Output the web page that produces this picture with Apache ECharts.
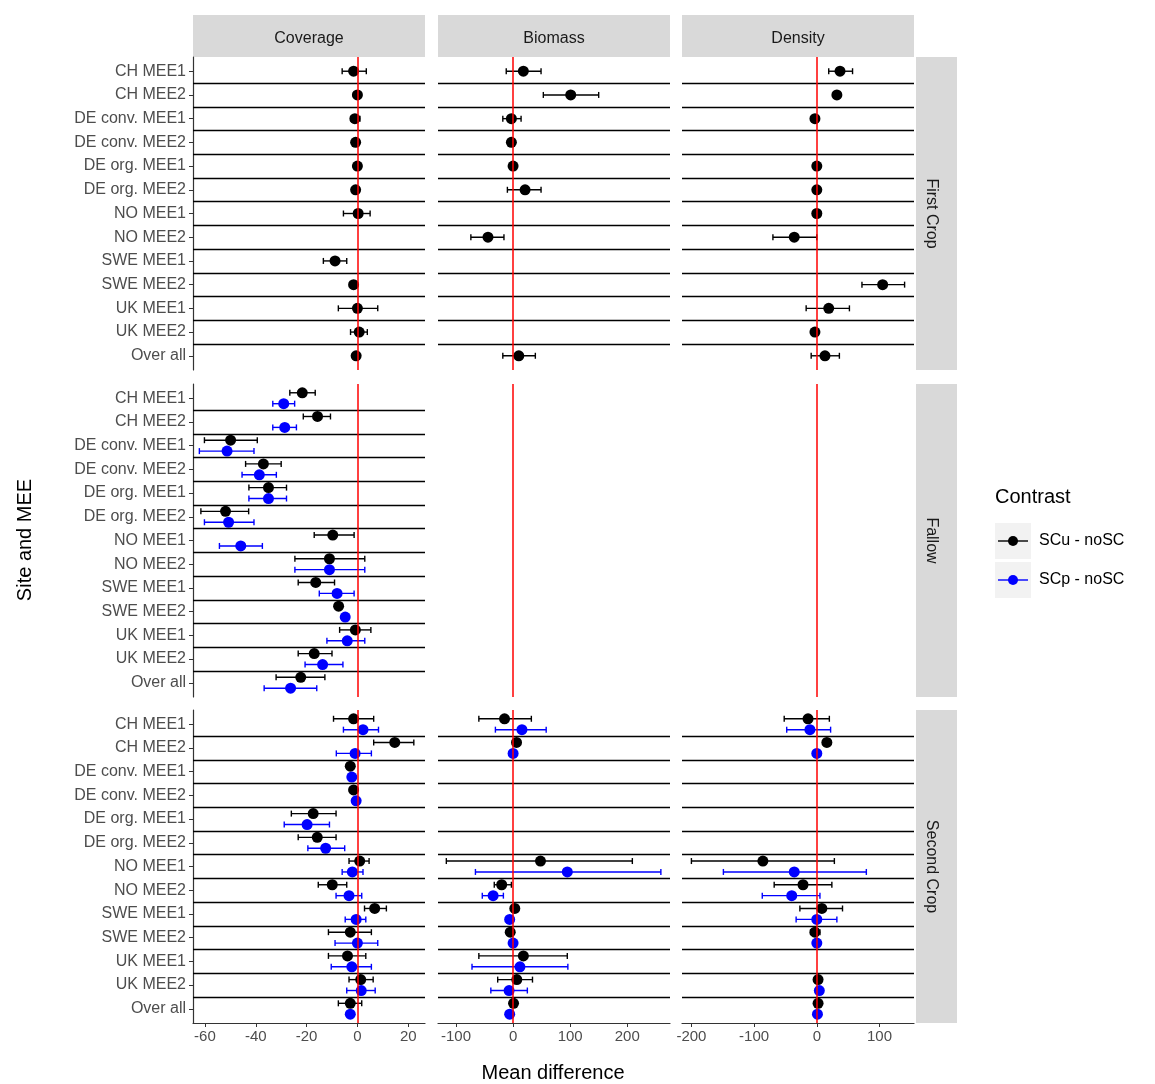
<!DOCTYPE html>
<html style="height: 100%">
<head>
<meta charset="utf-8">
<script src="https://cdn.jsdelivr.net/npm/echarts@6/dist/echarts.min.js"></script>
</head>
<body style="width: 100%; height: 100%; margin:0; background:#fff;">
<div id="container" style="width:1155px; height:1084px"></div>
<script type="text/javascript">
	var sites = ['CH MEE1', 'CH MEE2', 'DE conv. MEE1', 'DE conv. MEE2', 'DE org. MEE1', 'DE org. MEE2', 'NO MEE1', 'NO MEE2', 'SWE MEE1', 'SWE MEE2', 'UK MEE1', 'UK MEE2', 'Over all'];
	var measures = ['Coverage', 'Biomass', 'Density'];
	var periods = ['First Crop', 'Fallow', 'Second Crop'];
	var contrasts = ['SCu - noSC', 'SCp - noSC'];

	// [estimate, lower, upper], null = no estimate
	var covFirstU = [[-1.5, -6, 3.5], [0, -1.5, 1.5], [-1, -2.5, 1], [-0.7, -1.2, -0.2], [0, -0.6, 0.6], [-0.7, -1.3, -0.1], [0.3, -5.5, 5], null, [-8.8, -13.4, -4.2], [-1.5, -2, -1], [0, -7.5, 8], [0.7, -2.7, 3.9], [-0.5, -1, 0]];
	var bioFirstU = [[18, -12, 49], [101, 53, 150], [-3, -18, 14], [-3, -4, -2], [0, -1, 1], [21, -10, 49], null, [-44, -74, -16], null, null, null, null, [10, -18, 39]];
	var denFirstU = [[37, 19, 57], [32, 31, 33], [-3, -4, -2], null, [0, -1, 1], [0, -1, 1], [0, -1, 1], [-36, -70, 0], null, [105, 72, 140], [19, -17, 52], [-3, -4, -2], [13, -9, 36]];

	var covFallowU = [[-21.7, -26.6, -16.6], [-15.7, -21.3, -10.6], [-49.9, -60.2, -39.4], [-37, -44, -30], [-35, -42.7, -27.9], [-51.9, -61.6, -42.8], [-9.7, -17, -1.3], [-11, -24.6, 2.9], [-16.4, -23.3, -9], [-7.4, -8.2, -6.6], [-0.8, -7, 5.3], [-17, -23.3, -10], [-22.3, -32, -12.8]];
	var covFallowP = [[-29, -33.3, -24.7], [-28.6, -33.3, -24], [-51.3, -62.2, -40.7], [-38.6, -45.4, -31.9], [-35, -42.7, -27.9], [-50.7, -60.2, -40.7], [-45.9, -54.3, -37.4], [-11, -24.6, 2.9], [-8, -15, -1.3], [-4.8, -5.8, -3.8], [-4, -12, 2.9], [-13.7, -20.6, -5.7], [-26.3, -36.7, -16]];

	var covSecondU = [[-1.5, -9.4, 6.4], [14.7, 6.4, 22.2], [-2.8, -3.6, -2], [-1.5, -2.2, -0.8], [-17.4, -26, -8.4], [-15.8, -23.3, -8.4], [0.9, -3.3, 4.6], [-9.9, -15.4, -4.2], [6.8, 2.8, 11.4], [-2.8, -11.4, 5.5], [-3.9, -11.4, 3.3], [1.3, -3.3, 6.2], [-2.8, -7.5, 1.7]];
	var covSecondP = [[2.2, -5.5, 8.3], [-0.9, -8.3, 5.5], [-2.2, -2.8, -1.6], [-0.5, -1, 0], [-19.8, -28.8, -11], [-12.5, -19.5, -5], [-2, -6, 2.2], [-3.3, -8.4, 1.7], [-0.5, -4.8, 3.3], [0, -8.8, 8], [-2.2, -10.3, 5.5], [1.5, -4.2, 7], [-2.8, -3.4, -2.2]];
	var bioSecondU = [[-15, -60, 32], [6, 4, 8], null, null, null, null, [48, -117, 209], [-20, -33, -3], [3, 1, 5], [-5, -7, -3], [18, -60, 95], [6.5, -27, 34], [0.8, -1, 2.5]];
	var bioSecondP = [[15.5, -31, 58], [0, -2, 2], null, null, null, null, [95, -66, 259], [-35, -54, -17], [-6, -8, -4], [0, -2, 2], [12, -72, 96], [-7, -39, 25], [-6, -8, -4]];
	var denSecondU = [[-14, -52, 20], [16, 14, 18], null, null, null, null, [-86, -200, 28], [-22, -68, 24], [8, -27, 41], [-3, -10, 5], null, [2, 0, 4], [2, 0, 4]];
	var denSecondP = [[-11, -48, 22], [0, -2, 2], null, null, null, null, [-36, -149, 79], [-40, -87, 5], [0, -33, 32], [0, -5, 5], null, [4, 2, 6], [1, -1, 3]];

	var xRanges = [[-64.7, 26.6], [-131.6, 275], [-215, 155]];
	var xTicks = [[-60, -40, -20, 0, 20], [-100, 0, 100, 200], [-200, -100, 0, 100]];

	var panels = [
		{ row: 0, col: 0, u: covFirstU, p: null },
		{ row: 0, col: 1, u: bioFirstU, p: null },
		{ row: 0, col: 2, u: denFirstU, p: null },
		{ row: 1, col: 0, u: covFallowU, p: covFallowP },
		{ row: 1, col: 1, u: null, p: null },
		{ row: 1, col: 2, u: null, p: null },
		{ row: 2, col: 0, u: covSecondU, p: covSecondP },
		{ row: 2, col: 1, u: bioSecondU, p: bioSecondP },
		{ row: 2, col: 2, u: denSecondU, p: denSecondP }
	];

	var colLeft = [193, 438, 682], colW = 232;
	var rowTop = [57, 384, 710], rowH = 313;
	var grids = [], xAxes = [], yAxes = [], series = [];
	var idx = [];
	for (var i = 0; i < sites.length; i++) idx.push(i);
	var hlines = [];
	for (var i = 0; i < 12; i++) hlines.push({ yAxis: i + 0.5 });

	function errorBar(color) {
		return function (params, api) {
			var y = api.value(0), lo = api.value(1), hi = api.value(2);
			var a = api.coord([lo, y]), b = api.coord([hi, y]);
			var st = { stroke: color, lineWidth: 1.4 };
			var c = 3;
			return {
				type: 'group',
				children: [
					{ type: 'line', shape: { x1: a[0], y1: a[1], x2: b[0], y2: b[1] }, style: st },
					{ type: 'line', shape: { x1: a[0], y1: a[1] - c, x2: a[0], y2: a[1] + c }, style: st },
					{ type: 'line', shape: { x1: b[0], y1: b[1] - c, x2: b[0], y2: b[1] + c }, style: st }
				]
			};
		};
	}

	function addSeries(g, arr, off, color, name) {
		var pts = [], bars = [];
		for (var i = 0; i < arr.length; i++) {
			if (!arr[i]) continue;
			pts.push([arr[i][0], i + off]);
			bars.push([i + off, arr[i][1], arr[i][2]]);
		}
		series.push({
			type: 'custom', name: name, xAxisIndex: g, yAxisIndex: g,
			renderItem: errorBar(color), encode: { x: [1, 2], y: 0 }, data: bars, z: 3
		});
		series.push({
			type: 'scatter', name: name, xAxisIndex: g, yAxisIndex: g,
			symbolSize: 11, itemStyle: { color: color, opacity: 1 }, data: pts, z: 4
		});
	}

	panels.forEach(function (pn, g) {
		grids.push({ left: colLeft[pn.col], top: rowTop[pn.row], width: colW, height: rowH });
		xAxes.push({
			type: 'value', gridIndex: g, min: xRanges[pn.col][0], max: xRanges[pn.col][1],
			axisLine: { show: pn.row == 2, onZero: false, lineStyle: { color: '#333', width: 1.2 } },
			axisTick: { show: pn.row == 2, customValues: xTicks[pn.col], length: 4, lineStyle: { color: '#333' } },
			axisLabel: { show: pn.row == 2, customValues: xTicks[pn.col], color: '#4d4d4d', fontSize: 15, fontFamily: 'Liberation Sans', margin: 6 },
			splitLine: { show: false }
		});
		yAxes.push({
			type: 'value', gridIndex: g, min: -0.6, max: 12.6, inverse: true,
			axisLine: { show: pn.col == 0, onZero: false, lineStyle: { color: '#333', width: 1.2 } },
			axisTick: { show: pn.col == 0, customValues: idx, length: 4, lineStyle: { color: '#333' } },
			axisLabel: {
				show: pn.col == 0, customValues: idx, color: '#4d4d4d', fontSize: 16, fontFamily: 'Liberation Sans', margin: 7,
				formatter: function (v) { return sites[Math.round(v)]; }
			},
			splitLine: { show: false }
		});
		var marks = [{ xAxis: 0, lineStyle: { color: '#ff0000', width: 1.5, type: 'solid' } }];
		if (pn.u) marks = hlines.map(function (h) { return { yAxis: h.yAxis, lineStyle: { color: '#000', width: 1.4, type: 'solid' } }; }).concat(marks);
		series.push({
			type: 'line', xAxisIndex: g, yAxisIndex: g, data: [], silent: true,
			markLine: { symbol: 'none', silent: true, label: { show: false }, animation: false, data: marks }, z: 2
		});
		if (pn.u) addSeries(g, pn.u, pn.p ? -0.23 : 0, '#000000', contrasts[0]);
		if (pn.p) addSeries(g, pn.p, 0.23, '#0000ff', contrasts[1]);
	});

	var graphics = [];
	measures.forEach(function (m, c) {
		graphics.push({ type: 'rect', shape: { x: colLeft[c], y: 15, width: colW, height: 42 }, style: { fill: '#d9d9d9' } });
		graphics.push({ type: 'text', x: colLeft[c] + colW / 2, y: 39, style: { text: m, fill: '#1a1a1a', font: '16px "Liberation Sans"', align: 'center', verticalAlign: 'middle' } });
	});
	periods.forEach(function (p, r) {
		graphics.push({ type: 'rect', shape: { x: 916, y: rowTop[r], width: 41, height: rowH }, style: { fill: '#d9d9d9' } });
		graphics.push({ type: 'text', x: 931, y: rowTop[r] + rowH / 2, rotation: -Math.PI / 2, style: { text: p, fill: '#1a1a1a', font: '16px "Liberation Sans"', align: 'center', verticalAlign: 'middle' } });
	});
	graphics.push({ type: 'text', x: 25, y: 540, rotation: Math.PI / 2, style: { text: 'Site and MEE', fill: '#000', font: '20px "Liberation Sans"', align: 'center', verticalAlign: 'middle' } });
	graphics.push({ type: 'text', x: 553, y: 1073, style: { text: 'Mean difference', fill: '#000', font: '20px "Liberation Sans"', align: 'center', verticalAlign: 'middle' } });
	graphics.push({ type: 'text', x: 995, y: 497, style: { text: 'Contrast', fill: '#000', font: '20px "Liberation Sans"', verticalAlign: 'middle' } });
	[['#000000', 541], ['#0000ff', 580]].forEach(function (k, i) {
		graphics.push({ type: 'rect', shape: { x: 995, y: k[1] - 18, width: 36, height: 36 }, style: { fill: '#f2f2f2' } });
		graphics.push({ type: 'line', shape: { x1: 998, y1: k[1], x2: 1028, y2: k[1] }, style: { stroke: k[0], lineWidth: 1.4 } });
		graphics.push({ type: 'circle', shape: { cx: 1013, cy: k[1], r: 5 }, style: { fill: k[0] } });
		graphics.push({ type: 'text', x: 1039, y: k[1], style: { text: contrasts[i], fill: '#000', font: '16px "Liberation Sans"', verticalAlign: 'middle' } });
	});

	var myChart = echarts.init(document.getElementById('container'));
	myChart.setOption({
		animation: false,
		backgroundColor: '#ffffff',
		grid: grids, xAxis: xAxes, yAxis: yAxes, series: series,
		graphic: graphics
	});
</script>
</body>
</html>
